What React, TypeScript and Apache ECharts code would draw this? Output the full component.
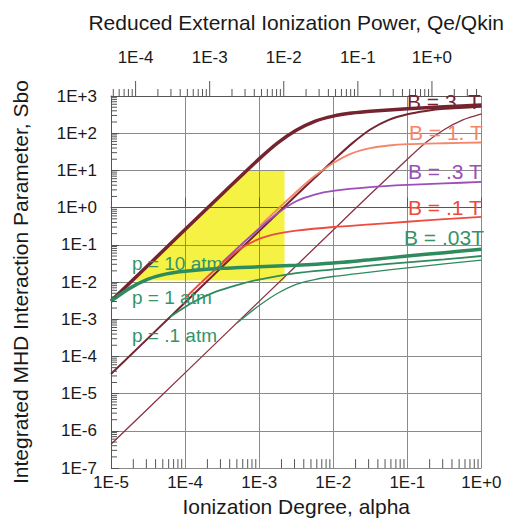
import React, { useEffect, useRef } from 'react';
import * as echarts from 'echarts';

// ---------- axes ----------
const X_MIN = 1e-5;
const X_MAX = 1;
const Y_MIN = 1e-7;
const Y_MAX = 1e3;
const Y_MIN_EXP = -7;
const Y_MAX_EXP = 3;
// top axis: Reduced External Ionization Power (shifted decades)
const Q_MIN = 4.656e-5;
const Q_MAX = 4.656;

const X_TICK_LABELS = ['1E-5', '1E-4', '1E-3', '1E-2', '1E-1', '1E+0'];
const Y_TICK_LABELS = ['1E-7', '1E-6', '1E-5', '1E-4', '1E-3', '1E-2', '1E-1', '1E+0', '1E+1', '1E+2', '1E+3'];
const TOP_TICK_LABELS = ['1E-4', '1E-3', '1E-2', '1E-1', '1E+0'];

const MINOR_STEPS = [2, 3, 4, 5, 6, 7, 8, 9];
const X_DECADES = [1e-5, 1e-4, 1e-3, 1e-2, 1e-1];
const Y_DECADES = [1e-7, 1e-6, 1e-5, 1e-4, 1e-3, 1e-2, 1e-1, 1, 10, 100];
const Q_DECADES = [1e-5, 1e-4, 1e-3, 1e-2, 1e-1, 1];
const Q_MAJOR = [1e-4, 1e-3, 1e-2, 1e-1, 1];

// ---------- curves: [alpha, Sbo] ----------
// p = 10 atm
const P10_B3: [number, number][] = [
  [1e-5, 3.09e-3], [1e-4, 0.257], [3.16e-4, 2.34], [1e-3, 20.4], [1.78e-3, 55.0],
  [3.16e-3, 120], [5.62e-3, 209], [1e-2, 288], [1.78e-2, 347], [3.16e-2, 389],
  [0.1, 457], [0.316, 513], [1, 575],
];
const P10_B003: [number, number][] = [
  [1e-5, 3.09e-3], [1.78e-5, 6.76e-3], [3.16e-5, 1.2e-2], [5.62e-5, 1.66e-2], [1e-4, 1.95e-2],
  [3.16e-4, 2.34e-2], [1e-3, 2.57e-2], [3.16e-3, 2.82e-2], [1e-2, 3.24e-2], [3.16e-2, 3.98e-2],
  [0.1, 5.01e-2], [0.316, 6.17e-2], [1, 7.59e-2],
];
// p = 1 atm
const P1_B3: [number, number][] = [
  [1e-5, 3.39e-5], [1e-4, 2.82e-3], [1e-3, 0.234], [3.16e-3, 2.14], [5.62e-3, 6.31],
  [1e-2, 18.6], [1.78e-2, 52.5], [3.16e-2, 126], [5.62e-2, 229], [0.1, 324],
  [0.178, 398], [0.316, 452], [1, 513],
];
const P1_B1: [number, number][] = [
  [1e-3, 0.309], [3.16e-3, 2.63], [5.62e-3, 7.08], [1e-2, 15.8], [1.78e-2, 28.8],
  [3.16e-2, 39.8], [5.62e-2, 46.8], [0.1, 50.7], [0.316, 53.7], [1, 56.2],
];
const P1_B03: [number, number][] = [
  [3.16e-4, 3.39e-2], [1e-3, 0.275], [1.78e-3, 0.708], [3.16e-3, 1.48], [5.62e-3, 2.24],
  [1e-2, 2.82], [3.16e-2, 3.55], [0.1, 4.07], [0.316, 4.47], [1, 4.9],
];
const P1_B01: [number, number][] = [
  [1e-4, 3.72e-3], [1.78e-4, 1.12e-2], [3.16e-4, 3.16e-2], [5.62e-4, 7.94e-2], [1e-3, 0.145],
  [1.78e-3, 0.2], [3.16e-3, 0.24], [1e-2, 0.302], [3.16e-2, 0.355], [0.1, 0.417],
  [0.316, 0.49], [1, 0.562],
];
const P1_B003: [number, number][] = [
  [6.31e-5, 1.17e-3], [1.26e-4, 2.82e-3], [2.51e-4, 5.37e-3], [5.01e-4, 8.32e-3], [1e-3, 1.17e-2],
  [3.16e-3, 1.74e-2], [1e-2, 2.19e-2], [3.16e-2, 2.75e-2], [0.1, 3.39e-2], [0.316, 4.07e-2],
  [1, 5.01e-2],
];
// p = 0.1 atm
const P01_B3: [number, number][] = [
  [1e-5, 4.37e-7], [1e-4, 3.63e-5], [1e-3, 3.02e-3], [1e-2, 0.251], [3.16e-2, 2.29],
  [0.1, 20.0], [0.178, 56.2], [0.316, 126], [0.562, 229], [1, 331],
];
const P01_B003: [number, number][] = [
  [5.01e-4, 7.94e-4], [1e-3, 2.34e-3], [1.78e-3, 5.01e-3], [3.16e-3, 8.71e-3], [5.62e-3, 1.17e-2],
  [1e-2, 1.41e-2], [3.16e-2, 1.86e-2], [0.1, 2.4e-2], [0.316, 3.09e-2], [1, 3.89e-2],
];

// highlighted operating region
const YELLOW_REGION: [number, number][] = [
  [1.95e-5, 1.1e-2], [6.76e-4, 10], [2.2e-3, 10], [2.2e-3, 1.1e-2],
];

// ---------- styles ----------
const FONT = "'Liberation Sans', Arial, Helvetica, sans-serif";
const TEXT = '#1a1a1a';
const AXIS = '#555555';
const GRIDC = '#8a8a8a';
const MAROON = '#74232f';
const MAROON2 = '#8a3344';
const ORANGE = '#f4866a';
const PURPLE = '#9c4fba';
const RED = '#ee4a3e';
const GREEN = '#2e8b5c';
const GREEN_TXT = '#35936a';
const YELLOW = '#f6f244';

const expOf = (v: number) => Math.log10(v);

function curve(name: string, data: [number, number][], color: string, width: number, z: number) {
  return {
    type: 'line',
    name,
    data,
    xAxisIndex: 0,
    yAxisIndex: 0,
    showSymbol: false,
    symbol: 'none',
    smooth: 0.25,
    silent: true,
    z,
    lineStyle: { color, width },
  };
}

function tickSeries(name: string, data: number[][], xAxisIndex: number, horizontal: boolean) {
  return {
    type: 'custom',
    name,
    xAxisIndex,
    yAxisIndex: 0,
    clip: false,
    silent: true,
    z: 5,
    data,
    renderItem: (_params: any, api: any) => {
      const p = api.coord([api.value(0), api.value(1)]);
      const len = api.value(2);
      return {
        type: 'line',
        shape: horizontal
          ? { x1: p[0], y1: p[1], x2: p[0] + len, y2: p[1] }
          : { x1: p[0], y1: p[1], x2: p[0], y2: p[1] - len },
        style: { stroke: AXIS, lineWidth: 1 },
      };
    },
  };
}

function label(text: string, x: number, y: number, color: string, size: number) {
  return {
    type: 'text',
    x,
    y,
    z: 20,
    silent: true,
    style: {
      text,
      fill: color,
      font: `${size}px ${FONT}`,
      textAlign: 'left',
      textVerticalAlign: 'middle',
    },
  };
}

export default function App() {
  const ref = useRef<HTMLDivElement>(null);

  useEffect(() => {
    if (!ref.current) return;
    const chart = echarts.init(ref.current, null, { renderer: 'svg' });

    const bottomMinor = X_DECADES.flatMap((d) => MINOR_STEPS.map((k) => [k * d, Y_MIN, 9]));
    const leftMinor = Y_DECADES.flatMap((d) => MINOR_STEPS.map((k) => [X_MIN, k * d, 6]));
    const topTicks = Q_DECADES.flatMap((d) => MINOR_STEPS.map((k) => k * d))
      .filter((q) => q > Q_MIN && q < Q_MAX)
      .map((q) => [q, Y_MAX, 7])
      .concat(Q_MAJOR.map((q) => [q, Y_MAX, 15]));

    const option: any = {
      animation: false,
      backgroundColor: '#ffffff',
      grid: { left: 111, right: 21, top: 96, bottom: 50, containLabel: false },
      xAxis: [
        {
          type: 'log',
          logBase: 10,
          min: X_MIN,
          max: X_MAX,
          position: 'bottom',
          axisLine: { show: true, lineStyle: { color: AXIS, width: 1 } },
          axisTick: { show: true, inside: true, length: 10, lineStyle: { color: AXIS } },
          axisLabel: {
            formatter: (v: number) => X_TICK_LABELS[Math.round(expOf(v)) + 5] ?? '',
            color: TEXT,
            fontSize: 17,
            fontFamily: FONT,
            margin: 6,
          },
          splitLine: { show: true, lineStyle: { color: GRIDC, width: 1 } },
          name: 'Ionization Degree, alpha',
          nameLocation: 'middle',
          nameGap: 22,
          nameTextStyle: { fontSize: 21, color: TEXT, fontFamily: FONT },
        },
        {
          type: 'log',
          logBase: 10,
          min: Q_MIN,
          max: Q_MAX,
          position: 'top',
          axisLine: { show: true, lineStyle: { color: AXIS, width: 1 } },
          axisTick: { show: false },
          axisLabel: {
            showMinLabel: false,
            showMaxLabel: false,
            formatter: (v: number) => {
              const e = expOf(v);
              const r = Math.round(e);
              if (Math.abs(e - r) > 1e-6) return '';
              return TOP_TICK_LABELS[r + 4] ?? '';
            },
            color: TEXT,
            fontSize: 17,
            fontFamily: FONT,
            margin: 30,
          },
          splitLine: { show: false },
          name: 'Reduced External Ionization Power, Qe/Qkin',
          nameLocation: 'middle',
          nameGap: 63,
          nameTextStyle: { fontSize: 21, color: TEXT, fontFamily: FONT },
        },
      ],
      yAxis: [
        { type: 'log', logBase: 10, min: Y_MIN, max: Y_MAX, position: 'left', show: false },
        {
          type: 'value',
          min: Y_MIN_EXP,
          max: Y_MAX_EXP,
          interval: 1,
          position: 'left',
          axisLine: { show: true, lineStyle: { color: AXIS, width: 1 } },
          axisTick: { show: true, inside: true, length: 8, lineStyle: { color: AXIS } },
          axisLabel: {
            formatter: (v: number) => Y_TICK_LABELS[Math.round(v) - Y_MIN_EXP] ?? '',
            color: TEXT,
            fontSize: 17,
            fontFamily: FONT,
            margin: 14,
          },
          splitLine: { show: true, lineStyle: { color: GRIDC, width: 1 } },
          name: 'Integrated MHD Interaction Parameter, Sbo',
          nameLocation: 'middle',
          nameGap: 80,
          nameTextStyle: { fontSize: 21, color: TEXT, fontFamily: FONT },
        },
      ],
      series: [
        {
          type: 'custom',
          name: 'region',
          xAxisIndex: 0,
          yAxisIndex: 0,
          clip: false,
          silent: true,
          z: -1,
          data: [YELLOW_REGION[0]],
          renderItem: (_p: any, api: any) => ({
            type: 'polygon',
            shape: { points: YELLOW_REGION.map((pt) => api.coord(pt)) },
            style: { fill: YELLOW, stroke: 'none' },
          }),
        },
        curve('p=.1 atm, B=3 T', P01_B3, MAROON2, 1.3, 2),
        curve('p=.1 atm, B=.03 T', P01_B003, GREEN, 1.3, 3),
        curve('p=1 atm, B=3 T', P1_B3, MAROON, 2, 2),
        curve('p=1 atm, B=1 T', P1_B1, ORANGE, 1.8, 3),
        curve('p=1 atm, B=.3 T', P1_B03, PURPLE, 1.8, 3),
        curve('p=1 atm, B=.1 T', P1_B01, RED, 1.8, 3),
        curve('p=1 atm, B=.03 T', P1_B003, GREEN, 1.8, 3),
        curve('p=10 atm, B=3 T', P10_B3, MAROON, 3.5, 4),
        curve('p=10 atm, B=.03 T', P10_B003, GREEN, 3.5, 4),
        tickSeries('bottom minor ticks', bottomMinor, 0, false),
        tickSeries('left minor ticks', leftMinor, 0, true),
        tickSeries('top ticks', topTicks, 1, false),
      ],
      graphic: {
        elements: [
          label('B = 3. T', 407, 101, MAROON, 21),
          label('B = 1. T', 409, 132, ORANGE, 21),
          label('B = .3 T', 408, 171, PURPLE, 21),
          label('B = .1 T', 408, 207, RED, 21),
          label('B = .03T', 404, 237, GREEN_TXT, 21),
          label('p = 10 atm', 132, 263, GREEN_TXT, 19),
          label('p = 1 atm', 132, 297, GREEN_TXT, 19),
          label('p = .1 atm', 132, 335, GREEN_TXT, 19),
        ],
      },
    };

    chart.setOption(option);
    return () => chart.dispose();
  }, []);

  return (
    <div
      ref={ref}
      style={{ position: 'absolute', left: 0, top: 0, width: 507, height: 522, background: '#fff' }}
    />
  );
}
